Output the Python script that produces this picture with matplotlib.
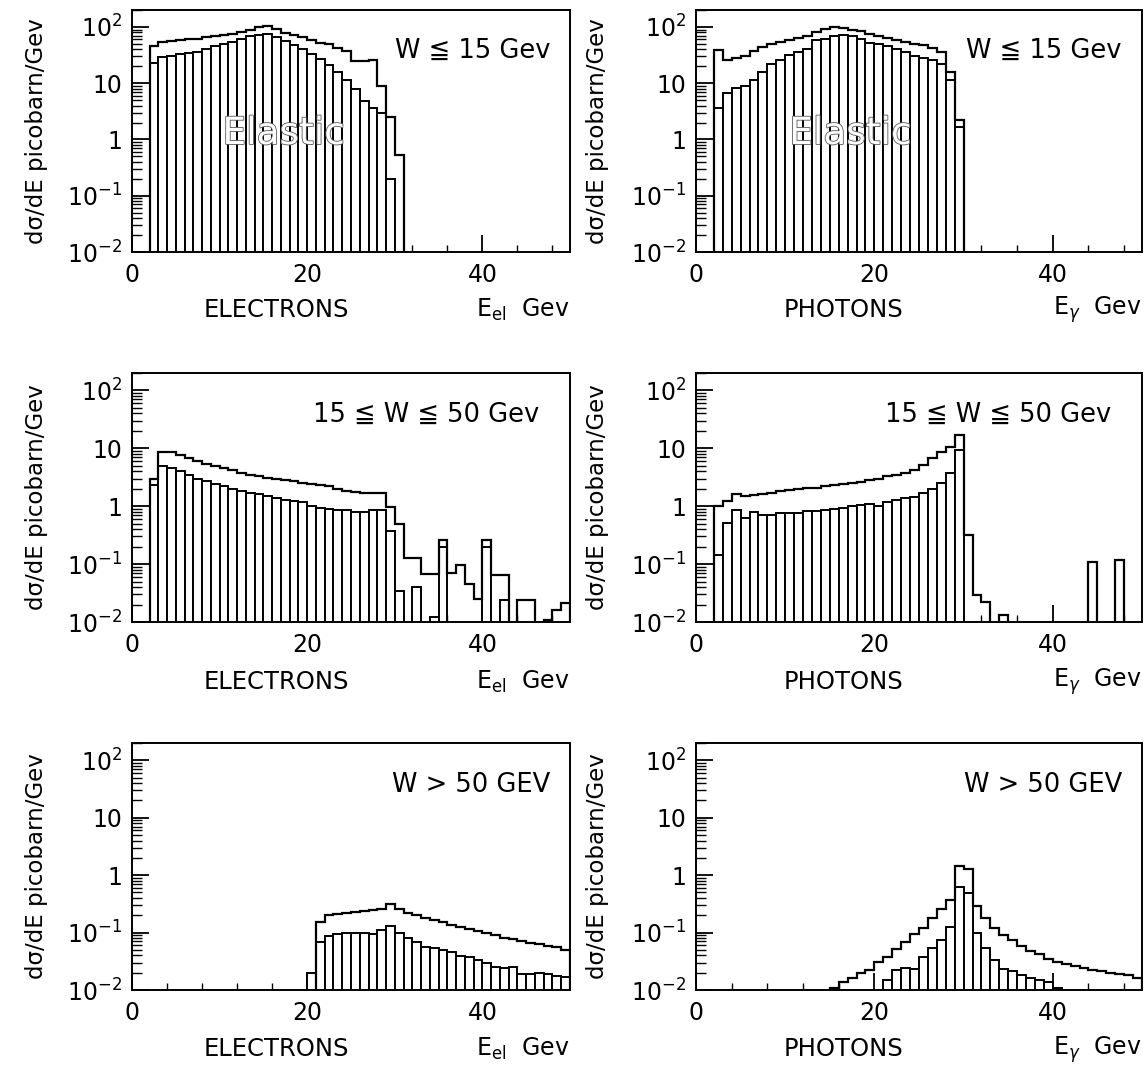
import numpy as np
import matplotlib
matplotlib.use('Agg')
import matplotlib.pyplot as plt
from matplotlib.ticker import FixedLocator, MultipleLocator, LogLocator, NullFormatter
import matplotlib.patheffects as pe

plt.rcParams['font.family'] = ['DejaVu Sans']
plt.rcParams['mathtext.fontset'] = 'dejavusans'

# ---------------- data (1 GeV bins, value of bin i covers [i, i+1)) ----------------
# Electrons, W <= 15 GeV
e1_total_start = 2
e1_total = [46, 55, 56, 58, 60, 62, 65, 68, 72, 76, 82, 90, 98, 104, 91, 79, 72, 65, 58,
            52, 49, 43, 38, 25, 25, 26, 9.0, 2.5, 0.52]
e1_inner_start = 2
e1_inner = [23, 29, 30, 33, 35, 36, 40, 45, 50, 55, 62, 68, 73, 76, 66, 57, 48, 40, 33, 27,
            21, 15.6, 11.5, 7.9, 4.9, 3.6, 3.0, 0.2]

# Photons, W <= 15 GeV
g1_total_start = 2
g1_total = [39, 26, 28, 31, 38, 44, 50, 54, 58, 63, 70, 80, 92, 98, 96, 90, 84, 76, 70, 64,
            58, 53, 50, 47, 42, 36, 15.5, 2.2]
g1_inner_start = 2
g1_inner = [3.6, 6.6, 8.1, 8.9, 11.4, 16, 22, 26, 32, 36, 41, 58, 62, 70, 72, 68, 62, 52, 50,
            46, 40, 36, 31, 28, 26, 22, 11.4, 1.7]

# Electrons, 15 <= W <= 50 GeV
e2_total_start = 2
e2_total = [3.0, 8.5, 8.5, 7.8, 6.8, 6.0, 5.4, 5.0, 4.6, 4.2, 3.8, 3.5, 3.3, 3.1, 3.0, 2.8,
            2.7, 2.5, 2.4, 2.3, 2.2, 2.0, 1.8, 1.75, 1.7, 1.7, 1.7, 0.96, 0.5, 0.13, 0.13,
            0.068, 0.068, 0.26, 0.07, 0.096, 0.045, 0.025, 0.26, 0.065, 0.065, 0, 0.024,
            0.024, 0, 0.011, 0.016, 0.021]
e2_inner_start = 2
e2_inner = [2.3, 5.0, 4.6, 4.0, 3.4, 3.0, 2.7, 2.4, 2.2, 2.0, 1.85, 1.7, 1.6, 1.5, 1.4, 1.3,
            1.25, 1.2, 1.0, 0.95, 0.9, 0.85, 0.85, 0.8, 0.8, 0.85, 0.85, 0.38, 0.035, 0,
            0.04, 0, 0.012, 0.2, 0, 0, 0, 0, 0.2, 0, 0.024]

# Photons, 15 <= W <= 50 GeV
g2_total_start = 2
g2_total = [1.0, 1.25, 1.6, 1.5, 1.56, 1.65, 1.7, 1.8, 1.9, 2.0, 2.05, 2.1, 2.2, 2.3, 2.4,
            2.5, 2.6, 2.8, 3.0, 3.3, 3.5, 3.8, 4.3, 5.2, 6.7, 8.8, 10.6, 16.7, 0.32, 0.029,
            0.022, 0, 0.013, 0, 0, 0, 0, 0, 0, 0, 0, 0, 0.11, 0, 0, 0.12, 0, 0]
g2_inner_start = 2
g2_inner = [0.146, 0.51, 0.86, 0.62, 0.79, 0.71, 0.71, 0.76, 0.76, 0.76, 0.84, 0.84, 0.86,
            0.88, 0.95, 0.99, 1.03, 1.08, 0.99, 1.2, 1.3, 1.4, 1.45, 1.67, 2.0, 2.5, 3.7,
            9.3, 0, 0, 0, 0, 0.013, 0, 0, 0, 0, 0, 0, 0, 0, 0, 0.11, 0, 0, 0.12]

# Electrons, W > 50 GeV
e3_total_start = 21
e3_total = [0.15, 0.2, 0.21, 0.22, 0.23, 0.24, 0.25, 0.26, 0.31, 0.26, 0.22, 0.2, 0.18,
            0.165, 0.15, 0.135, 0.125, 0.115, 0.105, 0.097, 0.09, 0.082, 0.076, 0.072,
            0.066, 0.062, 0.058, 0.055, 0.05]
e3_inner_start = 20
e3_inner = [0.0195, 0.069, 0.087, 0.093, 0.1, 0.1, 0.1, 0.094, 0.11, 0.13, 0.097, 0.079,
            0.069, 0.055, 0.053, 0.05, 0.045, 0.039, 0.037, 0.033, 0.029, 0.025, 0.024,
            0.025, 0.019, 0.019, 0.0195, 0.019, 0.0175, 0.017]

# Photons, W > 50 GeV
g3_total_start = 15
g3_total = [0.0107, 0.0136, 0.016, 0.0195, 0.0223, 0.031, 0.038, 0.052, 0.069, 0.093,
            0.118, 0.18, 0.26, 0.37, 1.45, 1.3, 0.29, 0.18, 0.12, 0.09, 0.074, 0.059,
            0.048, 0.042, 0.035, 0.031, 0.028, 0.026, 0.024, 0.022, 0.021, 0.02, 0.019,
            0.018, 0.016]
g3_inner_start = 21
g3_inner = [0.015, 0.022, 0.024, 0.023, 0.038, 0.053, 0.074, 0.126, 0.63, 0.48, 0.1,
            0.053, 0.033, 0.023, 0.021, 0.018, 0.016, 0.015, 0.0136, 0.011]

region_labels = ['W \u2266 15 Gev', '15 \u2266 W \u2266 50 Gev', 'W > 50 GEV']
particle_labels = ['ELECTRONS', 'PHOTONS']
energy_labels = [r'E$_{\rm el}$  Gev', r'E$_{\gamma}$  Gev']
ytick_vals = [1e-2, 1e-1, 1, 10, 100]
ytick_labels = [r'$10^{-2}$', r'$10^{-1}$', '1', '10', r'$10^{2}$']
xtick_vals = [0, 20, 40]
ylabel_text = 'd\u03c3/dE picobarn/Gev'

NBINS = 50
edges = np.arange(0, NBINS + 1)
centers = edges[:-1] + 0.5


def full(start, vals):
    arr = np.zeros(NBINS)
    arr[start:start + len(vals)] = vals
    return arr


panels = [
    [(e1_total_start, e1_total, e1_inner_start, e1_inner),
     (g1_total_start, g1_total, g1_inner_start, g1_inner)],
    [(e2_total_start, e2_total, e2_inner_start, e2_inner),
     (g2_total_start, g2_total, g2_inner_start, g2_inner)],
    [(e3_total_start, e3_total, e3_inner_start, e3_inner),
     (g3_total_start, g3_total, g3_inner_start, g3_inner)],
]

W, H = 1145, 1073
fig = plt.figure(figsize=(W / 100, H / 100), dpi=100)

col_px = [(132, 570), (696, 1142)]
row_px = [(10, 252), (373, 622), (743, 990)]

for r in range(3):
    for c in range(2):
        x0, x1 = col_px[c]
        y0, y1 = row_px[r]
        ax = fig.add_axes([x0 / W, 1 - y1 / H, (x1 - x0) / W, (y1 - y0) / H])
        ts, tv, is_, iv = panels[r][c]
        total = full(ts, tv)
        inner = full(is_, iv)

        ax.set_yscale('log')
        m = inner > 0
        ax.bar(centers[m], inner[m], width=1.0, color='white', edgecolor='black',
               linewidth=1.4, zorder=2)
        tplot = np.where(total > 0, total, 1e-4)
        ax.stairs(tplot, edges, baseline=1e-4, color='black', linewidth=1.6, zorder=3)

        ax.set_xlim(0, 50)
        ax.set_ylim(1e-2, 200)

        ax.yaxis.set_major_locator(FixedLocator(ytick_vals))
        ax.set_yticklabels(ytick_labels)
        ax.yaxis.set_minor_locator(LogLocator(base=10, subs=np.arange(2, 10)))
        ax.yaxis.set_minor_formatter(NullFormatter())
        ax.xaxis.set_major_locator(FixedLocator(xtick_vals))
        ax.xaxis.set_minor_locator(MultipleLocator(4))

        ax.tick_params(axis='y', which='major', direction='in', length=12, width=1.3,
                       labelsize=17, pad=7, right=False)
        ax.tick_params(axis='y', which='minor', direction='in', length=7, width=1.0,
                       right=False)
        ax.tick_params(axis='x', which='major', direction='in', length=12, width=1.3,
                       labelsize=17, pad=8, top=False)
        ax.tick_params(axis='x', which='minor', direction='in', length=5, width=1.0,
                       top=False)
        for s in ax.spines.values():
            s.set_linewidth(1.4)

        ax.set_ylabel(ylabel_text, fontsize=16.5)
        ax.yaxis.set_label_coords(-0.192 if c == 0 else -0.195, 0.5)

        ax.text(0.33, -0.24, particle_labels[c], transform=ax.transAxes,
                ha='center', va='center', fontsize=17.5)
        ax.text(1.0, -0.24, energy_labels[c], transform=ax.transAxes,
                ha='right', va='center', fontsize=17)
        ax.text(0.955 if r != 1 else 0.93, 0.83, region_labels[r], transform=ax.transAxes,
                ha='right', va='center', fontsize=18.5)

        if r == 0:
            ax.text(17.3, 1.25, 'Elastic', ha='center', va='center', fontsize=27,
                    color='white', zorder=4,
                    path_effects=[pe.withStroke(linewidth=1.2, foreground='0.35')])

fig.savefig('out.png', dpi=100)
